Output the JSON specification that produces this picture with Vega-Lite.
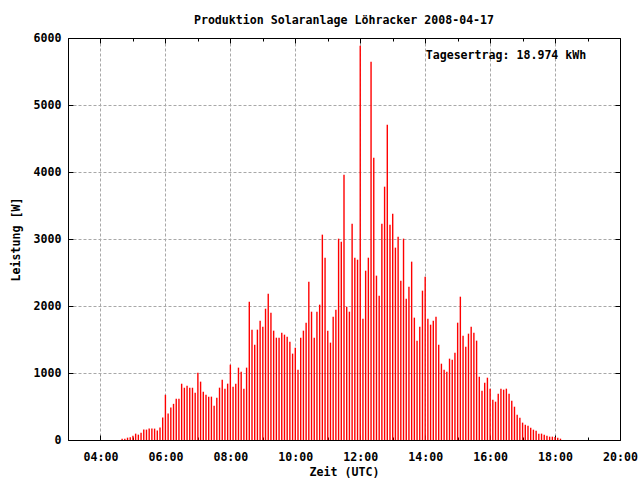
{
  "$schema": "https://vega.github.io/schema/vega-lite/v6.json",
  "width": 552,
  "height": 402,
  "autosize": "none",
  "padding": {"left": 68, "top": 38, "right": 20, "bottom": 40},
  "background": "white",
  "title": {
    "text": "Produktion Solaranlage Löhracker 2008-04-17",
    "font": "DejaVu Sans Mono",
    "fontSize": 11.6,
    "fontWeight": "bold",
    "color": "black",
    "anchor": "middle",
    "frame": "group",
    "baseline": "alphabetic",
    "offset": -4
  },
  "data": {
    "values": [
      {"t": "2008-04-17T04:40", "w": 20}, {"t": "2008-04-17T04:45", "w": 20}, {"t": "2008-04-17T04:50", "w": 35}, {"t": "2008-04-17T04:55", "w": 40},
      {"t": "2008-04-17T05:00", "w": 65}, {"t": "2008-04-17T05:05", "w": 95}, {"t": "2008-04-17T05:10", "w": 80}, {"t": "2008-04-17T05:15", "w": 110},
      {"t": "2008-04-17T05:20", "w": 155}, {"t": "2008-04-17T05:25", "w": 155}, {"t": "2008-04-17T05:30", "w": 170}, {"t": "2008-04-17T05:35", "w": 170},
      {"t": "2008-04-17T05:40", "w": 170}, {"t": "2008-04-17T05:45", "w": 140}, {"t": "2008-04-17T05:50", "w": 185}, {"t": "2008-04-17T05:55", "w": 335},
      {"t": "2008-04-17T06:00", "w": 675}, {"t": "2008-04-17T06:05", "w": 395}, {"t": "2008-04-17T06:10", "w": 485}, {"t": "2008-04-17T06:15", "w": 540},
      {"t": "2008-04-17T06:20", "w": 615}, {"t": "2008-04-17T06:25", "w": 615}, {"t": "2008-04-17T06:30", "w": 840}, {"t": "2008-04-17T06:35", "w": 780},
      {"t": "2008-04-17T06:40", "w": 810}, {"t": "2008-04-17T06:45", "w": 780}, {"t": "2008-04-17T06:50", "w": 780}, {"t": "2008-04-17T06:55", "w": 705},
      {"t": "2008-04-17T07:00", "w": 1005}, {"t": "2008-04-17T07:05", "w": 871}, {"t": "2008-04-17T07:10", "w": 721}, {"t": "2008-04-17T07:15", "w": 677},
      {"t": "2008-04-17T07:20", "w": 647}, {"t": "2008-04-17T07:25", "w": 647}, {"t": "2008-04-17T07:30", "w": 512}, {"t": "2008-04-17T07:35", "w": 632},
      {"t": "2008-04-17T07:40", "w": 781}, {"t": "2008-04-17T07:45", "w": 900}, {"t": "2008-04-17T07:50", "w": 766}, {"t": "2008-04-17T07:55", "w": 841},
      {"t": "2008-04-17T08:00", "w": 1124}, {"t": "2008-04-17T08:05", "w": 796}, {"t": "2008-04-17T08:10", "w": 841}, {"t": "2008-04-17T08:15", "w": 1080},
      {"t": "2008-04-17T08:20", "w": 1020}, {"t": "2008-04-17T08:25", "w": 766}, {"t": "2008-04-17T08:30", "w": 1080}, {"t": "2008-04-17T08:35", "w": 2065},
      {"t": "2008-04-17T08:40", "w": 1647}, {"t": "2008-04-17T08:45", "w": 1423}, {"t": "2008-04-17T08:50", "w": 1647}, {"t": "2008-04-17T08:55", "w": 1781},
      {"t": "2008-04-17T09:00", "w": 1692}, {"t": "2008-04-17T09:05", "w": 1960}, {"t": "2008-04-17T09:10", "w": 2184}, {"t": "2008-04-17T09:15", "w": 1900},
      {"t": "2008-04-17T09:20", "w": 1632}, {"t": "2008-04-17T09:25", "w": 1527}, {"t": "2008-04-17T09:30", "w": 1527}, {"t": "2008-04-17T09:35", "w": 1602},
      {"t": "2008-04-17T09:40", "w": 1572}, {"t": "2008-04-17T09:45", "w": 1542}, {"t": "2008-04-17T09:50", "w": 1468}, {"t": "2008-04-17T09:55", "w": 1289},
      {"t": "2008-04-17T10:00", "w": 1378}, {"t": "2008-04-17T10:05", "w": 1050}, {"t": "2008-04-17T10:10", "w": 1527}, {"t": "2008-04-17T10:15", "w": 1632},
      {"t": "2008-04-17T10:20", "w": 1751}, {"t": "2008-04-17T10:25", "w": 2363}, {"t": "2008-04-17T10:30", "w": 1915}, {"t": "2008-04-17T10:35", "w": 1527},
      {"t": "2008-04-17T10:40", "w": 1915}, {"t": "2008-04-17T10:45", "w": 2020}, {"t": "2008-04-17T10:50", "w": 3065}, {"t": "2008-04-17T10:55", "w": 2721},
      {"t": "2008-04-17T11:00", "w": 1632}, {"t": "2008-04-17T11:05", "w": 1453}, {"t": "2008-04-17T11:10", "w": 1841}, {"t": "2008-04-17T11:15", "w": 1945},
      {"t": "2008-04-17T11:20", "w": 3005}, {"t": "2008-04-17T11:25", "w": 2960}, {"t": "2008-04-17T11:30", "w": 3960}, {"t": "2008-04-17T11:35", "w": 1990},
      {"t": "2008-04-17T11:40", "w": 1915}, {"t": "2008-04-17T11:45", "w": 3229}, {"t": "2008-04-17T11:50", "w": 2721}, {"t": "2008-04-17T11:55", "w": 2691},
      {"t": "2008-04-17T12:00", "w": 5885}, {"t": "2008-04-17T12:05", "w": 1811}, {"t": "2008-04-17T12:10", "w": 2527}, {"t": "2008-04-17T12:15", "w": 2721},
      {"t": "2008-04-17T12:20", "w": 5647}, {"t": "2008-04-17T12:25", "w": 4214}, {"t": "2008-04-17T12:30", "w": 2453}, {"t": "2008-04-17T12:35", "w": 2154},
      {"t": "2008-04-17T12:40", "w": 3229}, {"t": "2008-04-17T12:45", "w": 3781}, {"t": "2008-04-17T12:50", "w": 4706}, {"t": "2008-04-17T12:55", "w": 3214},
      {"t": "2008-04-17T13:00", "w": 3378}, {"t": "2008-04-17T13:05", "w": 2871}, {"t": "2008-04-17T13:10", "w": 3035}, {"t": "2008-04-17T13:15", "w": 2378},
      {"t": "2008-04-17T13:20", "w": 3005}, {"t": "2008-04-17T13:25", "w": 2109}, {"t": "2008-04-17T13:30", "w": 2289}, {"t": "2008-04-17T13:35", "w": 2662},
      {"t": "2008-04-17T13:40", "w": 1826}, {"t": "2008-04-17T13:45", "w": 1483}, {"t": "2008-04-17T13:50", "w": 1692}, {"t": "2008-04-17T13:55", "w": 2229},
      {"t": "2008-04-17T14:00", "w": 2438}, {"t": "2008-04-17T14:05", "w": 1811}, {"t": "2008-04-17T14:10", "w": 1721}, {"t": "2008-04-17T14:15", "w": 1781},
      {"t": "2008-04-17T14:20", "w": 1841}, {"t": "2008-04-17T14:25", "w": 1423}, {"t": "2008-04-17T14:30", "w": 1139}, {"t": "2008-04-17T14:35", "w": 1050},
      {"t": "2008-04-17T14:40", "w": 1020}, {"t": "2008-04-17T14:45", "w": 1214}, {"t": "2008-04-17T14:50", "w": 1199}, {"t": "2008-04-17T14:55", "w": 1303},
      {"t": "2008-04-17T15:00", "w": 1751}, {"t": "2008-04-17T15:05", "w": 2139}, {"t": "2008-04-17T15:10", "w": 1557}, {"t": "2008-04-17T15:15", "w": 1393},
      {"t": "2008-04-17T15:20", "w": 1587}, {"t": "2008-04-17T15:25", "w": 1692}, {"t": "2008-04-17T15:30", "w": 1602}, {"t": "2008-04-17T15:35", "w": 1483},
      {"t": "2008-04-17T15:40", "w": 945}, {"t": "2008-04-17T15:45", "w": 736}, {"t": "2008-04-17T15:50", "w": 856}, {"t": "2008-04-17T15:55", "w": 930},
      {"t": "2008-04-17T16:00", "w": 766}, {"t": "2008-04-17T16:05", "w": 602}, {"t": "2008-04-17T16:10", "w": 572}, {"t": "2008-04-17T16:15", "w": 692},
      {"t": "2008-04-17T16:20", "w": 766}, {"t": "2008-04-17T16:25", "w": 751}, {"t": "2008-04-17T16:30", "w": 766}, {"t": "2008-04-17T16:35", "w": 692},
      {"t": "2008-04-17T16:40", "w": 587}, {"t": "2008-04-17T16:45", "w": 497}, {"t": "2008-04-17T16:50", "w": 378}, {"t": "2008-04-17T16:55", "w": 333},
      {"t": "2008-04-17T17:00", "w": 259}, {"t": "2008-04-17T17:05", "w": 229}, {"t": "2008-04-17T17:10", "w": 214}, {"t": "2008-04-17T17:15", "w": 184},
      {"t": "2008-04-17T17:20", "w": 154}, {"t": "2008-04-17T17:25", "w": 139}, {"t": "2008-04-17T17:30", "w": 95}, {"t": "2008-04-17T17:35", "w": 95},
      {"t": "2008-04-17T17:40", "w": 80}, {"t": "2008-04-17T17:45", "w": 65}, {"t": "2008-04-17T17:50", "w": 50}, {"t": "2008-04-17T17:55", "w": 50},
      {"t": "2008-04-17T18:00", "w": 45}, {"t": "2008-04-17T18:05", "w": 35}, {"t": "2008-04-17T18:10", "w": 20}
    ]
  },
  "layer": [
    {
      "mark": {"type": "rule", "color": "#ff0000", "strokeWidth": 1.4},
      "encoding": {
        "x": {
          "field": "t",
          "type": "temporal",
          "scale": {
            "domain": ["2008-04-17T03:00", "2008-04-17T20:00"],
            "nice": false
          },
          "axis": {
            "orient": "bottom",
            "title": "Zeit (UTC)",
            "values": ["2008-04-17T04:00", "2008-04-17T06:00", "2008-04-17T08:00", "2008-04-17T10:00", "2008-04-17T12:00", "2008-04-17T14:00", "2008-04-17T16:00", "2008-04-17T18:00", "2008-04-17T20:00"],
            "format": "%H:%M",
            "labelOverlap": false,
            "labelFlush": false,
            "tickSize": -5,
            "grid": true,
            "labelPadding": 16,
            "titlePadding": 4
          }
        },
        "y": {
          "field": "w",
          "type": "quantitative",
          "scale": {"domain": [0, 6000], "nice": false},
          "axis": {
            "orient": "left",
            "title": "Leistung [W]",
            "values": [0, 1000, 2000, 3000, 4000, 5000, 6000],
            "format": "d",
            "tickSize": -5,
            "grid": true,
            "labelPadding": 12,
            "titlePadding": 12
          }
        },
        "y2": {"datum": 0}
      }
    },
    {
      "mark": {"type": "rule", "opacity": 0},
      "encoding": {
        "x": {
          "field": "t",
          "type": "temporal",
          "axis": {
            "orient": "bottom",
            "title": null,
            "labels": false,
            "grid": false,
            "domain": false,
            "values": ["2008-04-17T05:00", "2008-04-17T07:00", "2008-04-17T09:00", "2008-04-17T11:00", "2008-04-17T13:00", "2008-04-17T15:00", "2008-04-17T17:00", "2008-04-17T19:00"],
            "tickSize": -3
          }
        },
        "y": {
          "field": "w",
          "type": "quantitative",
          "axis": {
            "orient": "right",
            "title": null,
            "labels": false,
            "grid": false,
            "values": [0, 1000, 2000, 3000, 4000, 5000, 6000],
            "tickSize": -5
          }
        }
      }
    },
    {
      "mark": {"type": "rule", "opacity": 0},
      "encoding": {
        "x": {
          "field": "t",
          "type": "temporal",
          "axis": {
            "orient": "top",
            "title": null,
            "labels": false,
            "grid": false,
            "values": ["2008-04-17T04:00", "2008-04-17T06:00", "2008-04-17T08:00", "2008-04-17T10:00", "2008-04-17T12:00", "2008-04-17T14:00", "2008-04-17T16:00", "2008-04-17T18:00"],
            "tickSize": -5
          }
        }
      }
    },
    {
      "mark": {"type": "rule", "opacity": 0},
      "encoding": {
        "x": {
          "field": "t",
          "type": "temporal",
          "axis": {
            "orient": "top",
            "title": null,
            "labels": false,
            "grid": false,
            "domain": false,
            "values": ["2008-04-17T05:00", "2008-04-17T07:00", "2008-04-17T09:00", "2008-04-17T11:00", "2008-04-17T13:00", "2008-04-17T15:00", "2008-04-17T17:00", "2008-04-17T19:00"],
            "tickSize": -3
          }
        }
      }
    },
    {
      "data": {"values": [{"label": "Tagesertrag: 18.974 kWh", "t": "2008-04-17T14:01", "w": 5736}]},
      "mark": {
        "type": "text",
        "align": "left",
        "baseline": "middle",
        "font": "DejaVu Sans Mono",
        "fontSize": 11.6,
        "fontWeight": "bold",
        "color": "black"
      },
      "encoding": {
        "x": {"field": "t", "type": "temporal", "axis": null},
        "y": {"field": "w", "type": "quantitative", "axis": null},
        "text": {"field": "label"}
      }
    }
  ],
  "resolve": {"axis": {"x": "independent", "y": "independent"}},
  "config": {
    "view": {"stroke": "black", "strokeWidth": 1},
    "axis": {
      "labelFont": "DejaVu Sans Mono",
      "labelFontSize": 11.6,
      "labelFontWeight": "bold",
      "labelColor": "black",
      "titleFont": "DejaVu Sans Mono",
      "titleFontSize": 11.6,
      "titleFontWeight": "bold",
      "titleColor": "black",
      "domainColor": "black",
      "domainWidth": 1,
      "tickColor": "black",
      "tickWidth": 1,
      "gridColor": "#a8a8a8",
      "gridDash": [3, 2],
      "gridWidth": 1
    }
  }
}
